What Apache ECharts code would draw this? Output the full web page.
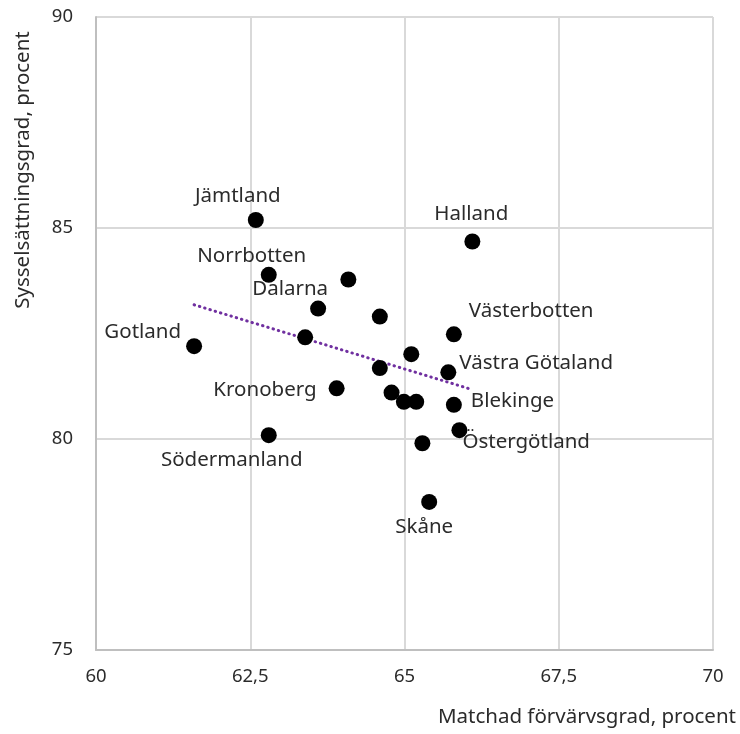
<!DOCTYPE html>
<html>
<head>
<meta charset="utf-8">
<script src="https://cdn.jsdelivr.net/npm/echarts@6/dist/echarts.min.js"></script>
<style>
  html, body { margin: 0; padding: 0; background: #fff; }
  #chart { width: 740px; height: 734px; }
</style>
</head>
<body>
<div id="chart"></div>
<script>
// ---- Data ----
const regionNames = ['Jämtland', 'Halland', 'Norrbotten', '', 'Dalarna', '', 'Västerbotten', 'Gotland', '', '',
  'Västra Götaland', '', 'Kronoberg', '', '', '', 'Blekinge', 'Östergötland', 'Södermanland', '', 'Skåne'];
const matchadForvarvsgrad = [62.59, 66.10, 62.80, 64.09, 63.60, 64.60, 65.80, 61.59, 63.39, 65.11,
  65.71, 64.60, 63.90, 64.79, 64.99, 65.19, 65.80, 65.89, 62.80, 65.29, 65.40];
const sysselsattningsgrad = [85.19, 84.68, 83.89, 83.78, 83.09, 82.90, 82.48, 82.20, 82.41, 82.01,
  81.58, 81.68, 81.20, 81.10, 80.88, 80.88, 80.81, 80.21, 80.09, 79.90, 78.51];
const trendX = [61.59, 66.10];
const trendY = [83.18, 81.17];
const xTicks = [60, 62.5, 65, 67.5, 70];
const yTicks = [75, 80, 85, 90];
const xTitle = 'Matchad förvärvsgrad, procent';
const yTitle = 'Sysselsättningsgrad, procent';

// ---- Label placement (style only) ----
const labelPlacement = {
  'Jämtland':        { align: 'center', offset: [-18, -24] },
  'Halland':         { align: 'center', offset: [-1, -27] },
  'Norrbotten':      { align: 'center', offset: [-17, -19] },
  'Dalarna':         { align: 'center', offset: [-28, -19] },
  'Västerbotten':    { align: 'left',   offset: [15, -23] },
  'Gotland':         { align: 'right',  offset: [-13, -14] },
  'Västra Götaland': { align: 'left',   offset: [11, -9] },
  'Kronoberg':       { align: 'right',  offset: [-20, 2] },
  'Blekinge':        { align: 'left',   offset: [17, -4] },
  'Östergötland':    { align: 'left',   offset: [3, 12] },
  'Södermanland':    { align: 'center', offset: [-37, 25] },
  'Skåne':           { align: 'center', offset: [-5, 25] }
};

const FONT = '"Noto Sans", "Open Sans", sans-serif';
const TEXT = '#2b2b2b';

const scatterData = regionNames.map((n, i) => {
  const item = { name: n, value: [matchadForvarvsgrad[i], sysselsattningsgrad[i]] };
  const p = labelPlacement[n];
  if (p) {
    item.label = {
      show: true, position: 'inside', formatter: n,
      align: p.align, verticalAlign: 'middle', offset: p.offset,
      color: TEXT, fontFamily: FONT, fontSize: 20.5
    };
  } else {
    item.label = { show: false };
  }
  return item;
});

const chart = echarts.init(document.getElementById('chart'), null, { renderer: 'canvas' });
chart.setOption({
  animation: false,
  backgroundColor: '#ffffff',
  grid: { left: 96, top: 17, width: 617, height: 633, containLabel: false },
  xAxis: {
    type: 'value', min: xTicks[0], max: xTicks[xTicks.length - 1], interval: 2.5,
    axisLine: { show: true, onZero: false, lineStyle: { color: '#bfbfbf', width: 2 } },
    axisTick: { show: false },
    splitLine: { show: true, lineStyle: { color: '#d9d9d9', width: 2 } },
    axisLabel: {
      margin: 17, color: TEXT, fontFamily: FONT, fontSize: 18.5,
      formatter: v => String(v).replace('.', ',')
    }
  },
  yAxis: {
    type: 'value', min: yTicks[0], max: yTicks[yTicks.length - 1], interval: 5,
    axisLine: { show: true, onZero: false, lineStyle: { color: '#bfbfbf', width: 2 } },
    axisTick: { show: false },
    splitLine: { show: true, lineStyle: { color: '#d9d9d9', width: 2 } },
    axisLabel: { margin: 23, color: TEXT, fontFamily: FONT, fontSize: 18.5 }
  },
  graphic: [
    {
      type: 'text', right: 4, top: 707,
      style: { text: xTitle, fill: TEXT, font: '20.5px ' + FONT }
    },
    {
      type: 'text', x: 23, y: 170, rotation: Math.PI / 2,
      style: { text: yTitle, fill: TEXT, font: '20.5px ' + FONT, align: 'center', verticalAlign: 'middle' }
    }
  ],
  series: [
    {
      type: 'line',
      data: trendX.map((x, i) => [x, trendY[i]]),
      symbol: 'none',
      lineStyle: { color: '#7030a0', width: 3, type: [0.5, 5], cap: 'round' },
      z: 1
    },
    {
      type: 'scatter',
      data: scatterData,
      symbol: 'circle',
      symbolSize: 16,
      itemStyle: { color: '#000000', opacity: 1 },
      z: 2
    }
  ]
});
</script>
</body>
</html>
